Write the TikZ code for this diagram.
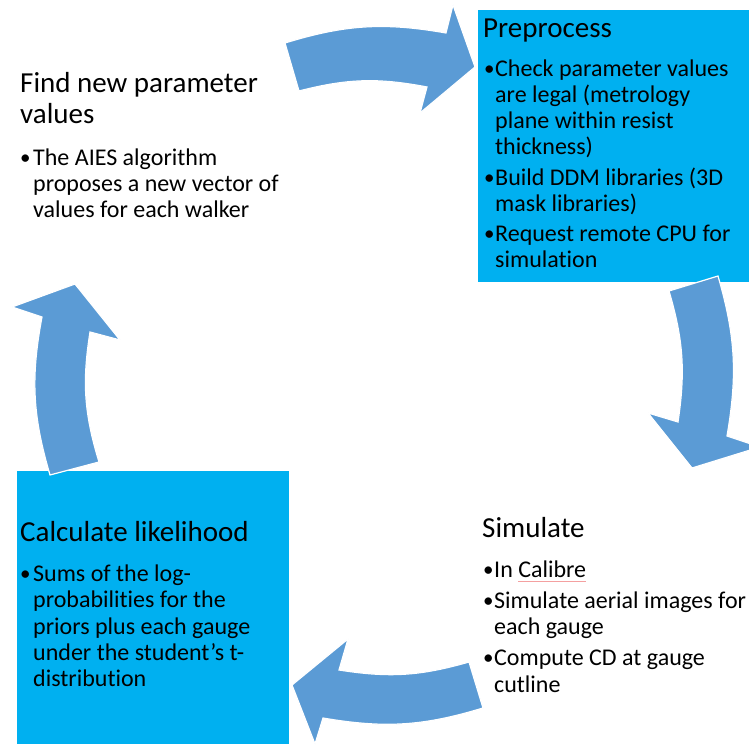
\documentclass[tikz,border=0pt]{standalone}
\usepackage{fontspec}
\setmainfont[Ligatures=NoCommon]{Carlito}
\definecolor{boxcyan}{HTML}{00B0F0}
\definecolor{arrowblue}{HTML}{5B9BD5}
\definecolor{spellred}{HTML}{F4A0A0}
\newcommand\spellmark[1]{\sbox0{#1}\usebox0\llap{{\color{spellred}\rule[-4pt]{\wd0}{1pt}}}}
\begin{document}
\begin{tikzpicture}[x=1pt,y=1pt,
  panel/.style={fill=boxcyan, draw=none},
  cyc/.style={fill=arrowblue, draw=white, line width=1.2pt, line join=miter},
  ttl/.style={anchor=base west, inner sep=0pt, font=\fontsize{29}{31}\selectfont},
  txt/.style={anchor=base west, inner sep=0pt, font=\fontsize{24}{26}\selectfont},
  bul/.style={anchor=base west, inner sep=0pt, font=\fontsize{21}{26}\selectfont},
]
\useasboundingbox (0,0) rectangle (749,744);
\clip (0,0) rectangle (749,744);
\fill[white] (0,0) rectangle (749,744);

% panels
\path[panel] (478,734) rectangle (749,462);
\path[panel] (17,273) rectangle (289,0);

% top arrow
\coordinate (T1) at (285,701);
\coordinate (T2) at (446,711);
\coordinate (T3) at (453,739);
\coordinate (T4) at (475,677);
\coordinate (T5) at (420,631);
\coordinate (T6) at (427,657);
\coordinate (T7) at (299,653);
\path[cyc] (T1) to[bend left=13.5] (T2) -- (T3) -- (T4) -- (T5) -- (T6) to[bend right=12.6] (T7) -- cycle;

% right arrow
\coordinate (R1) at (718,468);
\coordinate (R2) at (727,308);
\coordinate (R3) at (760,297);
\coordinate (R4) at (692,276);
\coordinate (R5) at (648,331);
\coordinate (R6) at (678,322);
\coordinate (R7) at (669,453);
\path[cyc] (R1) to[bend left=13] (R2) -- (R3) -- (R4) -- (R5) -- (R6) to[bend right=12.4] (R7) -- cycle;

% bottom arrow
\coordinate (B1) at (483,36);
\coordinate (B2) at (323,26);
\coordinate (B3) at (315,0);
\coordinate (B4) at (292,59);
\coordinate (B5) at (348,105);
\coordinate (B6) at (339,74);
\coordinate (B7) at (469,82);
\path[cyc] (B1) to[bend left=13.3] (B2) -- (B3) -- (B4) -- (B5) -- (B6) to[bend right=12.5] (B7) -- cycle;

% left arrow
\coordinate (L1) at (50,269);
\coordinate (L2) at (42,427);
\coordinate (L3) at (12,437);
\coordinate (L4) at (75,460);
\coordinate (L5) at (120,404);
\coordinate (L6) at (90,412);
\coordinate (L7) at (99,282);
\path[cyc] (L1) to[bend left=13.5] (L2) -- (L3) -- (L4) -- (L5) -- (L6) to[bend right=13] (L7) -- cycle;

% Find new parameter values
\node[ttl] (f1) at (20,651) {Find new parameter};
\node[ttl] (f2) at (20,620) {values};
\node[bul] (fb1) at (20,579) {•};
\node[txt] (fa1) at (33,578) {The AIES algorithm};
\node[txt] (fa2) at (33,552) {proposes a new vector of};
\node[txt] (fa3) at (33,526) {values for each walker};

% Preprocess
\node[ttl] (p0) at (483,706) {Preprocess};
\node[bul] (pb1) at (484,668) {•};
\node[txt] (pa1) at (495,667) {Check parameter values};
\node[txt] (pa2) at (495,641) {are legal (metrology};
\node[txt] (pa3) at (495,615) {plane within resist};
\node[txt] (pa4) at (495,589) {thickness)};
\node[bul] (pb2) at (484,559) {•};
\node[txt] (pc1) at (495,558) {Build DDM libraries (3D};
\node[txt] (pc2) at (495,532) {mask libraries)};
\node[bul] (pb3) at (484,503) {•};
\node[txt] (pd1) at (495,502) {Request remote CPU for};
\node[txt] (pd2) at (495,476) {simulation};

% Simulate
\node[ttl] (s0) at (482,206) {Simulate};
\node[bul] (sb1) at (483,167) {•};
\node[txt] (sa1) at (494,166) {In \spellmark{Calibre}};
\node[bul] (sb2) at (483,136) {•};
\node[txt] (sc1) at (494,135) {Simulate aerial images for};
\node[txt] (sc2) at (494,109) {each gauge};
\node[bul] (sb3) at (483,79) {•};
\node[txt] (sd1) at (494,78) {Compute CD at gauge};
\node[txt] (sd2) at (494,52) {cutline};

% Calculate likelihood
\node[ttl] (c0) at (20,202) {Calculate likelihood};
\node[bul] (cb1) at (20,163) {•};
\node[txt] (ca1) at (33,162) {Sums of the log-};
\node[txt] (ca2) at (33,136) {probabilities for the};
\node[txt] (ca3) at (33,110) {priors plus each gauge};
\node[txt] (ca4) at (33,84) {under the student’s t-};
\node[txt] (ca5) at (33,58) {distribution};
\end{tikzpicture}
\end{document}
